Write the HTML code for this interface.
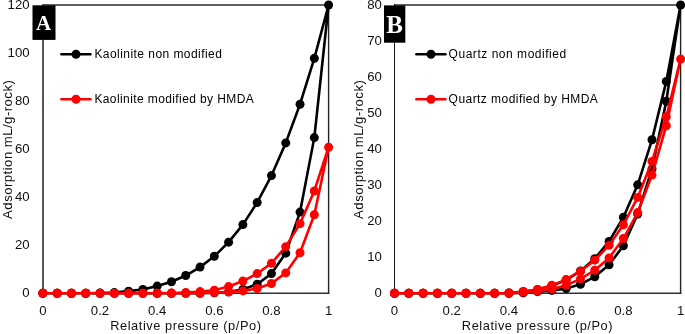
<!DOCTYPE html>
<html><head><meta charset="utf-8"><style>
html,body{margin:0;padding:0;background:#fff;}
body{width:685px;height:334px;position:relative;overflow:hidden;font-family:"Liberation Sans",sans-serif;color:#111;}
svg{position:absolute;left:0;top:0;}
.yt,.xt,.lg,.xtt,.ytt,.lab{filter:grayscale(1);}
.yt{position:absolute;font-size:13.2px;line-height:14px;text-align:right;white-space:nowrap;}
.xt{position:absolute;width:60px;text-align:center;font-size:13.2px;line-height:14px;white-space:nowrap;}
.lg{position:absolute;font-size:12px;line-height:14px;white-space:nowrap;letter-spacing:0.4px;color:#000;}
.xtt{position:absolute;width:200px;text-align:center;font-size:12.8px;line-height:15px;white-space:nowrap;letter-spacing:0.55px;text-indent:0.55px;}
.ytt{position:absolute;width:200px;text-align:center;font-size:13.2px;line-height:15px;white-space:nowrap;letter-spacing:0.45px;text-indent:0.45px;transform:rotate(-90deg);transform-origin:center center;}
.lab{position:absolute;font-family:"Liberation Serif",serif;font-weight:bold;color:#fff;text-align:center;}
</style></head><body>
<svg width="685" height="334" viewBox="0 0 685 334">
<rect x="42" y="4" width="287.10" height="2" fill="#606060"/><line x1="328.6" y1="5.0" x2="328.6" y2="293.3" stroke="#222" stroke-width="1.4" stroke-linecap="square"/><line x1="42.9" y1="293.3" x2="328.6" y2="293.3" stroke="#333" stroke-width="1.5" stroke-linecap="square"/><rect x="42" y="4" width="2" height="289.30" fill="#575757"/>
<rect x="394" y="4" width="287.10" height="2" fill="#606060"/><line x1="680.6" y1="5.0" x2="680.6" y2="293.3" stroke="#222" stroke-width="1.4" stroke-linecap="square"/><line x1="394.5" y1="293.3" x2="680.6" y2="293.3" stroke="#333" stroke-width="1.5" stroke-linecap="square"/><rect x="394" y="4" width="1" height="289.30" fill="#151515"/>
<path d="M42.90 293.30 L57.19 293.30 L71.47 293.30 L85.76 293.30 L100.04 293.30 L114.33 293.30 L128.61 293.30 L142.90 293.30 L157.18 293.30 L171.47 293.30 L185.75 293.30 L200.04 293.30 L214.32 292.82 L228.61 291.86 L242.89 289.46 L257.18 284.17 L271.46 273.60 L285.75 253.18 L300.03 212.10 L314.32 137.62 L328.60 5.00 L314.32 58.34 L300.03 104.22 L285.75 142.90 L271.46 175.58 L257.18 202.49 L242.89 224.59 L228.61 242.13 L214.32 256.30 L200.04 267.11 L185.75 275.52 L171.47 281.77 L157.18 286.09 L142.90 289.46 L128.61 291.14 L114.33 292.58 L100.04 293.06 L85.76 293.30 L71.47 293.30 L57.19 293.30 L42.90 293.30" fill="none" stroke="#000" stroke-width="2.6" stroke-linejoin="round" stroke-linecap="round"/><circle cx="42.90" cy="293.30" r="4.5" fill="#000"/><circle cx="57.19" cy="293.30" r="4.5" fill="#000"/><circle cx="71.47" cy="293.30" r="4.5" fill="#000"/><circle cx="85.76" cy="293.30" r="4.5" fill="#000"/><circle cx="100.04" cy="293.30" r="4.5" fill="#000"/><circle cx="114.33" cy="293.30" r="4.5" fill="#000"/><circle cx="128.61" cy="293.30" r="4.5" fill="#000"/><circle cx="142.90" cy="293.30" r="4.5" fill="#000"/><circle cx="157.18" cy="293.30" r="4.5" fill="#000"/><circle cx="171.47" cy="293.30" r="4.5" fill="#000"/><circle cx="185.75" cy="293.30" r="4.5" fill="#000"/><circle cx="200.04" cy="293.30" r="4.5" fill="#000"/><circle cx="214.32" cy="292.82" r="4.5" fill="#000"/><circle cx="228.61" cy="291.86" r="4.5" fill="#000"/><circle cx="242.89" cy="289.46" r="4.5" fill="#000"/><circle cx="257.18" cy="284.17" r="4.5" fill="#000"/><circle cx="271.46" cy="273.60" r="4.5" fill="#000"/><circle cx="285.75" cy="253.18" r="4.5" fill="#000"/><circle cx="300.03" cy="212.10" r="4.5" fill="#000"/><circle cx="314.32" cy="137.62" r="4.5" fill="#000"/><circle cx="328.60" cy="5.00" r="4.5" fill="#000"/><circle cx="314.32" cy="58.34" r="4.5" fill="#000"/><circle cx="300.03" cy="104.22" r="4.5" fill="#000"/><circle cx="285.75" cy="142.90" r="4.5" fill="#000"/><circle cx="271.46" cy="175.58" r="4.5" fill="#000"/><circle cx="257.18" cy="202.49" r="4.5" fill="#000"/><circle cx="242.89" cy="224.59" r="4.5" fill="#000"/><circle cx="228.61" cy="242.13" r="4.5" fill="#000"/><circle cx="214.32" cy="256.30" r="4.5" fill="#000"/><circle cx="200.04" cy="267.11" r="4.5" fill="#000"/><circle cx="185.75" cy="275.52" r="4.5" fill="#000"/><circle cx="171.47" cy="281.77" r="4.5" fill="#000"/><circle cx="157.18" cy="286.09" r="4.5" fill="#000"/><circle cx="142.90" cy="289.46" r="4.5" fill="#000"/><circle cx="128.61" cy="291.14" r="4.5" fill="#000"/><circle cx="114.33" cy="292.58" r="4.5" fill="#000"/><circle cx="100.04" cy="293.06" r="4.5" fill="#000"/><circle cx="85.76" cy="293.30" r="4.5" fill="#000"/><circle cx="71.47" cy="293.30" r="4.5" fill="#000"/><circle cx="57.19" cy="293.30" r="4.5" fill="#000"/><circle cx="42.90" cy="293.30" r="4.5" fill="#000"/>
<path d="M42.90 293.30 L57.19 293.30 L71.47 293.30 L85.76 293.30 L100.04 293.30 L114.33 293.30 L128.61 293.30 L142.90 293.30 L157.18 293.30 L171.47 293.30 L185.75 293.30 L200.04 293.06 L214.32 292.58 L228.61 292.10 L242.89 290.90 L257.18 288.50 L271.46 283.45 L285.75 272.88 L300.03 252.70 L314.32 214.74 L328.60 147.23 L314.32 190.95 L300.03 223.63 L285.75 246.69 L271.46 263.27 L257.18 273.60 L242.89 281.05 L228.61 286.57 L214.32 290.18 L200.04 291.62 L185.75 292.58 L171.47 293.06 L157.18 293.30 L142.90 293.30 L128.61 293.30 L114.33 293.30 L100.04 293.30 L85.76 293.30 L71.47 293.30 L57.19 293.30 L42.90 293.30" fill="none" stroke="#ff0000" stroke-width="2.6" stroke-linejoin="round" stroke-linecap="round"/><circle cx="42.90" cy="293.30" r="4.5" fill="#ff0000"/><circle cx="57.19" cy="293.30" r="4.5" fill="#ff0000"/><circle cx="71.47" cy="293.30" r="4.5" fill="#ff0000"/><circle cx="85.76" cy="293.30" r="4.5" fill="#ff0000"/><circle cx="100.04" cy="293.30" r="4.5" fill="#ff0000"/><circle cx="114.33" cy="293.30" r="4.5" fill="#ff0000"/><circle cx="128.61" cy="293.30" r="4.5" fill="#ff0000"/><circle cx="142.90" cy="293.30" r="4.5" fill="#ff0000"/><circle cx="157.18" cy="293.30" r="4.5" fill="#ff0000"/><circle cx="171.47" cy="293.30" r="4.5" fill="#ff0000"/><circle cx="185.75" cy="293.30" r="4.5" fill="#ff0000"/><circle cx="200.04" cy="293.06" r="4.5" fill="#ff0000"/><circle cx="214.32" cy="292.58" r="4.5" fill="#ff0000"/><circle cx="228.61" cy="292.10" r="4.5" fill="#ff0000"/><circle cx="242.89" cy="290.90" r="4.5" fill="#ff0000"/><circle cx="257.18" cy="288.50" r="4.5" fill="#ff0000"/><circle cx="271.46" cy="283.45" r="4.5" fill="#ff0000"/><circle cx="285.75" cy="272.88" r="4.5" fill="#ff0000"/><circle cx="300.03" cy="252.70" r="4.5" fill="#ff0000"/><circle cx="314.32" cy="214.74" r="4.5" fill="#ff0000"/><circle cx="328.60" cy="147.23" r="4.5" fill="#ff0000"/><circle cx="314.32" cy="190.95" r="4.5" fill="#ff0000"/><circle cx="300.03" cy="223.63" r="4.5" fill="#ff0000"/><circle cx="285.75" cy="246.69" r="4.5" fill="#ff0000"/><circle cx="271.46" cy="263.27" r="4.5" fill="#ff0000"/><circle cx="257.18" cy="273.60" r="4.5" fill="#ff0000"/><circle cx="242.89" cy="281.05" r="4.5" fill="#ff0000"/><circle cx="228.61" cy="286.57" r="4.5" fill="#ff0000"/><circle cx="214.32" cy="290.18" r="4.5" fill="#ff0000"/><circle cx="200.04" cy="291.62" r="4.5" fill="#ff0000"/><circle cx="185.75" cy="292.58" r="4.5" fill="#ff0000"/><circle cx="171.47" cy="293.06" r="4.5" fill="#ff0000"/><circle cx="157.18" cy="293.30" r="4.5" fill="#ff0000"/><circle cx="142.90" cy="293.30" r="4.5" fill="#ff0000"/><circle cx="128.61" cy="293.30" r="4.5" fill="#ff0000"/><circle cx="114.33" cy="293.30" r="4.5" fill="#ff0000"/><circle cx="100.04" cy="293.30" r="4.5" fill="#ff0000"/><circle cx="85.76" cy="293.30" r="4.5" fill="#ff0000"/><circle cx="71.47" cy="293.30" r="4.5" fill="#ff0000"/><circle cx="57.19" cy="293.30" r="4.5" fill="#ff0000"/><circle cx="42.90" cy="293.30" r="4.5" fill="#ff0000"/>
<path d="M394.50 293.30 L408.81 293.30 L423.11 293.30 L437.42 293.30 L451.72 293.30 L466.02 293.30 L480.33 293.30 L494.63 293.30 L508.94 293.30 L523.25 292.94 L537.55 291.68 L551.86 290.42 L566.16 288.62 L580.47 284.29 L594.77 276.72 L609.08 264.83 L623.38 245.73 L637.69 214.02 L651.99 168.97 L666.30 101.22 L680.60 5.00 L666.30 81.40 L651.99 139.78 L637.69 184.83 L623.38 217.26 L609.08 241.41 L594.77 258.70 L580.47 270.96 L566.16 279.97 L551.86 285.73 L537.55 289.70 L523.25 291.68 L508.94 292.94 L494.63 293.30 L480.33 293.30 L466.02 293.30 L451.72 293.30 L437.42 293.30 L423.11 293.30 L408.81 293.30 L394.50 293.30" fill="none" stroke="#000" stroke-width="2.6" stroke-linejoin="round" stroke-linecap="round"/><circle cx="394.50" cy="293.30" r="4.5" fill="#000"/><circle cx="408.81" cy="293.30" r="4.5" fill="#000"/><circle cx="423.11" cy="293.30" r="4.5" fill="#000"/><circle cx="437.42" cy="293.30" r="4.5" fill="#000"/><circle cx="451.72" cy="293.30" r="4.5" fill="#000"/><circle cx="466.02" cy="293.30" r="4.5" fill="#000"/><circle cx="480.33" cy="293.30" r="4.5" fill="#000"/><circle cx="494.63" cy="293.30" r="4.5" fill="#000"/><circle cx="508.94" cy="293.30" r="4.5" fill="#000"/><circle cx="523.25" cy="292.94" r="4.5" fill="#000"/><circle cx="537.55" cy="291.68" r="4.5" fill="#000"/><circle cx="551.86" cy="290.42" r="4.5" fill="#000"/><circle cx="566.16" cy="288.62" r="4.5" fill="#000"/><circle cx="580.47" cy="284.29" r="4.5" fill="#000"/><circle cx="594.77" cy="276.72" r="4.5" fill="#000"/><circle cx="609.08" cy="264.83" r="4.5" fill="#000"/><circle cx="623.38" cy="245.73" r="4.5" fill="#000"/><circle cx="637.69" cy="214.02" r="4.5" fill="#000"/><circle cx="651.99" cy="168.97" r="4.5" fill="#000"/><circle cx="666.30" cy="101.22" r="4.5" fill="#000"/><circle cx="680.60" cy="5.00" r="4.5" fill="#000"/><circle cx="666.30" cy="81.40" r="4.5" fill="#000"/><circle cx="651.99" cy="139.78" r="4.5" fill="#000"/><circle cx="637.69" cy="184.83" r="4.5" fill="#000"/><circle cx="623.38" cy="217.26" r="4.5" fill="#000"/><circle cx="609.08" cy="241.41" r="4.5" fill="#000"/><circle cx="594.77" cy="258.70" r="4.5" fill="#000"/><circle cx="580.47" cy="270.96" r="4.5" fill="#000"/><circle cx="566.16" cy="279.97" r="4.5" fill="#000"/><circle cx="551.86" cy="285.73" r="4.5" fill="#000"/><circle cx="537.55" cy="289.70" r="4.5" fill="#000"/><circle cx="523.25" cy="291.68" r="4.5" fill="#000"/><circle cx="508.94" cy="292.94" r="4.5" fill="#000"/><circle cx="494.63" cy="293.30" r="4.5" fill="#000"/><circle cx="480.33" cy="293.30" r="4.5" fill="#000"/><circle cx="466.02" cy="293.30" r="4.5" fill="#000"/><circle cx="451.72" cy="293.30" r="4.5" fill="#000"/><circle cx="437.42" cy="293.30" r="4.5" fill="#000"/><circle cx="423.11" cy="293.30" r="4.5" fill="#000"/><circle cx="408.81" cy="293.30" r="4.5" fill="#000"/><circle cx="394.50" cy="293.30" r="4.5" fill="#000"/>
<path d="M394.50 293.30 L408.81 293.30 L423.11 293.30 L437.42 293.30 L451.72 293.30 L466.02 293.30 L480.33 293.30 L494.63 293.30 L508.94 293.30 L523.25 292.22 L537.55 291.14 L551.86 288.98 L566.16 285.37 L580.47 278.88 L594.77 270.24 L609.08 257.98 L623.38 238.52 L637.69 212.58 L651.99 175.10 L666.30 125.73 L680.60 59.06 L666.30 116.72 L651.99 161.40 L637.69 197.44 L623.38 224.83 L609.08 245.37 L594.77 260.15 L580.47 271.32 L566.16 279.61 L551.86 285.37 L537.55 289.52 L523.25 291.50 L508.94 292.94 L494.63 293.30 L480.33 293.30 L466.02 293.30 L451.72 293.30 L437.42 293.30 L423.11 293.30 L408.81 293.30 L394.50 293.30" fill="none" stroke="#ff0000" stroke-width="2.6" stroke-linejoin="round" stroke-linecap="round"/><circle cx="394.50" cy="293.30" r="4.5" fill="#ff0000"/><circle cx="408.81" cy="293.30" r="4.5" fill="#ff0000"/><circle cx="423.11" cy="293.30" r="4.5" fill="#ff0000"/><circle cx="437.42" cy="293.30" r="4.5" fill="#ff0000"/><circle cx="451.72" cy="293.30" r="4.5" fill="#ff0000"/><circle cx="466.02" cy="293.30" r="4.5" fill="#ff0000"/><circle cx="480.33" cy="293.30" r="4.5" fill="#ff0000"/><circle cx="494.63" cy="293.30" r="4.5" fill="#ff0000"/><circle cx="508.94" cy="293.30" r="4.5" fill="#ff0000"/><circle cx="523.25" cy="292.22" r="4.5" fill="#ff0000"/><circle cx="537.55" cy="291.14" r="4.5" fill="#ff0000"/><circle cx="551.86" cy="288.98" r="4.5" fill="#ff0000"/><circle cx="566.16" cy="285.37" r="4.5" fill="#ff0000"/><circle cx="580.47" cy="278.88" r="4.5" fill="#ff0000"/><circle cx="594.77" cy="270.24" r="4.5" fill="#ff0000"/><circle cx="609.08" cy="257.98" r="4.5" fill="#ff0000"/><circle cx="623.38" cy="238.52" r="4.5" fill="#ff0000"/><circle cx="637.69" cy="212.58" r="4.5" fill="#ff0000"/><circle cx="651.99" cy="175.10" r="4.5" fill="#ff0000"/><circle cx="666.30" cy="125.73" r="4.5" fill="#ff0000"/><circle cx="680.60" cy="59.06" r="4.5" fill="#ff0000"/><circle cx="666.30" cy="116.72" r="4.5" fill="#ff0000"/><circle cx="651.99" cy="161.40" r="4.5" fill="#ff0000"/><circle cx="637.69" cy="197.44" r="4.5" fill="#ff0000"/><circle cx="623.38" cy="224.83" r="4.5" fill="#ff0000"/><circle cx="609.08" cy="245.37" r="4.5" fill="#ff0000"/><circle cx="594.77" cy="260.15" r="4.5" fill="#ff0000"/><circle cx="580.47" cy="271.32" r="4.5" fill="#ff0000"/><circle cx="566.16" cy="279.61" r="4.5" fill="#ff0000"/><circle cx="551.86" cy="285.37" r="4.5" fill="#ff0000"/><circle cx="537.55" cy="289.52" r="4.5" fill="#ff0000"/><circle cx="523.25" cy="291.50" r="4.5" fill="#ff0000"/><circle cx="508.94" cy="292.94" r="4.5" fill="#ff0000"/><circle cx="494.63" cy="293.30" r="4.5" fill="#ff0000"/><circle cx="480.33" cy="293.30" r="4.5" fill="#ff0000"/><circle cx="466.02" cy="293.30" r="4.5" fill="#ff0000"/><circle cx="451.72" cy="293.30" r="4.5" fill="#ff0000"/><circle cx="437.42" cy="293.30" r="4.5" fill="#ff0000"/><circle cx="423.11" cy="293.30" r="4.5" fill="#ff0000"/><circle cx="408.81" cy="293.30" r="4.5" fill="#ff0000"/><circle cx="394.50" cy="293.30" r="4.5" fill="#ff0000"/>
<line x1="61.4" y1="54.3" x2="90.4" y2="54.3" stroke="#000" stroke-width="2.6" stroke-linecap="round"/><circle cx="76.0" cy="54.3" r="4.5" fill="#000"/>
<line x1="61.4" y1="99.3" x2="90.4" y2="99.3" stroke="#ff0000" stroke-width="2.6" stroke-linecap="round"/><circle cx="76.0" cy="99.3" r="4.5" fill="#ff0000"/>
<line x1="416.4" y1="54.3" x2="445.4" y2="54.3" stroke="#000" stroke-width="2.6" stroke-linecap="round"/><circle cx="431.0" cy="54.3" r="4.5" fill="#000"/>
<line x1="416.4" y1="99.3" x2="445.4" y2="99.3" stroke="#ff0000" stroke-width="2.6" stroke-linecap="round"/><circle cx="431.0" cy="99.3" r="4.5" fill="#ff0000"/>
<rect x="32.5" y="5.3" width="23" height="34.6" fill="#000"/>
<rect x="384" y="5.4" width="21.3" height="37.3" fill="#000"/>
</svg>
<div class="yt" style="right:655.4px;top:286.30px">0</div>
<div class="yt" style="right:655.4px;top:238.25px">20</div>
<div class="yt" style="right:655.4px;top:190.20px">40</div>
<div class="yt" style="right:655.4px;top:142.15px">60</div>
<div class="yt" style="right:655.4px;top:94.10px">80</div>
<div class="yt" style="right:655.4px;top:46.05px">100</div>
<div class="yt" style="right:655.4px;top:-2.00px">120</div>
<div class="yt" style="right:303.2px;top:286.30px">0</div>
<div class="yt" style="right:303.2px;top:250.26px">10</div>
<div class="yt" style="right:303.2px;top:214.23px">20</div>
<div class="yt" style="right:303.2px;top:178.19px">30</div>
<div class="yt" style="right:303.2px;top:142.15px">40</div>
<div class="yt" style="right:303.2px;top:106.11px">50</div>
<div class="yt" style="right:303.2px;top:70.08px">60</div>
<div class="yt" style="right:303.2px;top:34.04px">70</div>
<div class="yt" style="right:303.2px;top:-2.00px">80</div>
<div class="xt" style="left:12.90px;top:304px">0</div>
<div class="xt" style="left:70.04px;top:304px">0.2</div>
<div class="xt" style="left:127.18px;top:304px">0.4</div>
<div class="xt" style="left:184.32px;top:304px">0.6</div>
<div class="xt" style="left:241.46px;top:304px">0.8</div>
<div class="xt" style="left:298.60px;top:304px">1</div>
<div class="xt" style="left:364.50px;top:304px">0</div>
<div class="xt" style="left:421.72px;top:304px">0.2</div>
<div class="xt" style="left:478.94px;top:304px">0.4</div>
<div class="xt" style="left:536.16px;top:304px">0.6</div>
<div class="xt" style="left:593.38px;top:304px">0.8</div>
<div class="xt" style="left:650.60px;top:304px">1</div>
<div class="lg" style="left:94.4px;top:47px;letter-spacing:0.45px">Kaolinite non modified</div>
<div class="lg" style="left:94.4px;top:92.2px">Kaolinite modified by HMDA</div>
<div class="lg" style="left:448.6px;top:47px;letter-spacing:0.53px">Quartz non modified</div>
<div class="lg" style="left:448.6px;top:92.2px;letter-spacing:0.45px">Quartz modified by HMDA</div>
<div class="xtt" style="left:85.6px;top:318px">Relative pressure (p/Po)</div>
<div class="xtt" style="left:437.2px;top:318px">Relative pressure (p/Po)</div>
<div class="ytt" style="left:-93.3px;top:141.5px">Adsorption mL/g-rock)</div>
<div class="ytt" style="left:257.5px;top:141.5px">Adsorption mL/g-rock)</div>
<div class="lab" style="left:32.1px;top:5.3px;width:23px;height:34.6px;font-size:21px;line-height:36px">A</div>
<div class="lab" style="left:384px;top:5.4px;width:21.3px;height:37.3px;font-size:25px;line-height:39px">B</div>
</body></html>
